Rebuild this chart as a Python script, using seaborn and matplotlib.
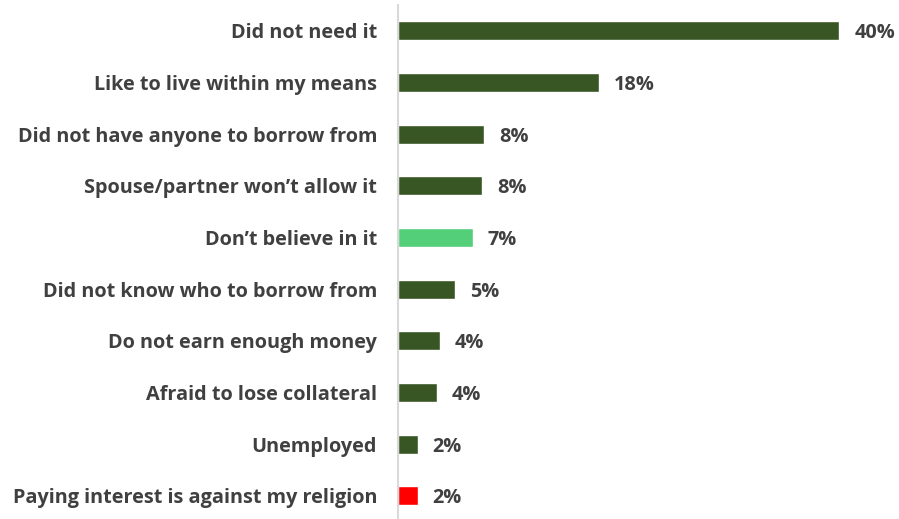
import matplotlib
matplotlib.use("Agg")
import matplotlib.pyplot as plt
import seaborn as sns
import pandas as pd

categories = [
    "Did not need it",
    "Like to live within my means",
    "Did not have anyone to borrow from",
    "Spouse/partner won\u2019t allow it",
    "Don\u2019t believe in it",
    "Did not know who to borrow from",
    "Do not earn enough money",
    "Afraid to lose collateral",
    "Unemployed",
    "Paying interest is against my religion",
]
values = [40.0, 18.2, 7.8, 7.6, 6.8, 5.2, 3.8, 3.5, 1.8, 1.8]
bar_colors = ["#375623"] * 4 + ["#53cf7a"] + ["#375623"] * 4 + ["#ff0000"]

df = pd.DataFrame({"reason": categories, "pct": values})

sns.set_theme(style="white")
plt.rcParams["font.family"] = ["Open Sans", "DejaVu Sans"]

fig = plt.figure(figsize=(8.99, 5.19), dpi=100)
ax = fig.add_axes([398 / 899, 0.0, 501 / 899, 514 / 519])

sns.barplot(data=df, x="pct", y="reason", hue="reason", palette=bar_colors,
            saturation=1, legend=False, width=0.37, ax=ax, orient="h")

ax.set_xlim(0, 45.4)
ax.set_ylim(9.45, -0.5)
ax.set_xlabel("")
ax.set_ylabel("")
ax.set_xticks([])
for s in ["top", "right", "bottom"]:
    ax.spines[s].set_visible(False)
ax.spines["left"].set_color("#d9d9d9")
ax.spines["left"].set_linewidth(1.5)

ax.tick_params(axis="y", length=0, pad=15)
for lbl in ax.get_yticklabels():
    lbl.set_fontsize(14.3)
    lbl.set_fontweight("bold")
    lbl.set_color("#404040")

for i, v in enumerate(values):
    ax.text(v + 1.35, i, f"{round(v)}%", va="center_baseline", ha="left",
            fontsize=14.3, fontweight="bold", color="#404040")

fig.savefig("out.png", dpi=100)
